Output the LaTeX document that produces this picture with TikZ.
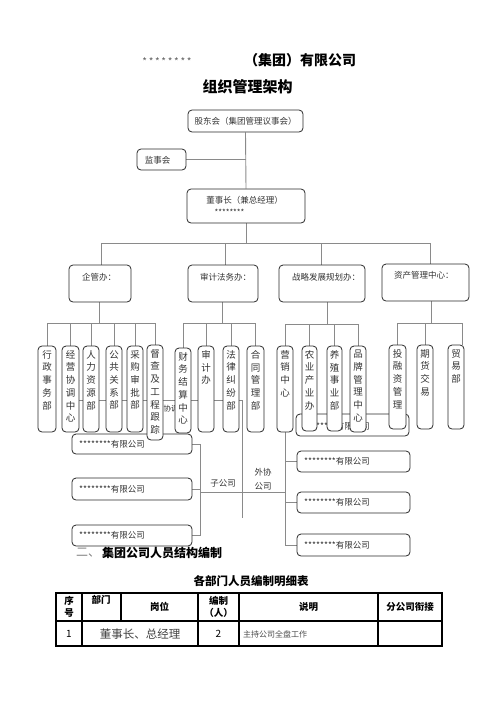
\documentclass[tikz,border=0pt]{standalone}
\usepackage{fontspec}
\setmainfont{Noto Sans CJK SC}
\usetikzlibrary{backgrounds}
\definecolor{bd}{HTML}{2A2A2A}
\definecolor{ln}{HTML}{8A8A8A}
\definecolor{tx}{HTML}{333333}
\newcommand\mkbox[5]{\node[box, minimum width={(#4-#2)*1pt}, minimum height={(#5-#3)*1pt}] (#1) at ({(#2+#4)/2},{(#3+#5)/2}) {};}
\newcommand\vlab[2]{\node[vt] (#1-t) at ([yshift=-4.5pt]#1.north) {#2};}
\begin{document}
\begin{tikzpicture}[x=1pt,y=-1pt,
  box/.style={draw=bd, line width=0.8pt, rounded corners=4pt, fill=white, inner sep=0pt},
  conn/.style={draw=ln, line width=0.9pt},
  t/.style={text=tx, font=\fontsize{8.5}{10}\selectfont, inner sep=0pt},
  vt/.style={text=tx, font=\fontsize{9.5}{12.7}\selectfont, align=center, inner sep=0pt, anchor=north},
  hd/.style={text=black, font=\bfseries\fontsize{9.5}{12}\selectfont, align=center, inner sep=0pt}]
\useasboundingbox (0,0) rectangle (496,702);

% titles
\node[text=black!60, font=\fontsize{10}{11}\selectfont, inner sep=0pt] (stars) at (167,62) {*\,*\,*\,*\,*\,*\,*\,*};
\node[font=\bfseries\fontsize{14}{16}\selectfont, inner sep=0pt] (ttl) at (300,60) {（集团）有限公司};
\node[font=\bfseries\fontsize{15}{17}\selectfont, inner sep=0pt] (ttl2) at (247.5,87) {组织管理架构};

% top boxes
\mkbox{gd}{188}{110}{303}{132}
\node[t] (gd-t) at (gd) {股东会（集团管理议事会）};
\mkbox{js}{137}{149}{186}{170}
\node[t] (js-t) at (157.5,160) {监事会};
\mkbox{dsz}{187}{189}{305}{223}
\node[t] (dsz-t) at (244.5,200) {董事长（兼总经理）};
\node[t, font=\fontsize{8}{9}\selectfont] (dsz-s) at (229.5,212) {********};

% level 2
\mkbox{q1}{69}{265}{131}{302}
\node[t, anchor=west] (q1-t) at (82,277) {企管办：};
\mkbox{q2}{188}{265}{258}{302}
\node[t, anchor=west] (q2-t) at (200,277) {审计法务办：};
\mkbox{q3}{279}{265}{365}{302}
\node[t, anchor=west] (q3-t) at (292,277) {战略发展规划办：};
\mkbox{q4}{382}{264}{469}{301}
\node[t, anchor=west] (q4-t) at (394,275) {资产管理中心：};

% hidden label and boxes behind departments
\node[t, font=\fontsize{7.5}{9}\selectfont, anchor=west] (xt) at (163.5,409) {协调};
\mkbox{r0}{296}{414}{409}{436}
\node[t, anchor=west] (r0-t) at (304,426) {********有限公司};
\mkbox{l1}{72}{434}{192}{454}
\node[t, anchor=west] (l1-t) at (79,444) {********有限公司};

% departments
\mkbox{a1}{38}{346}{56}{432}\vlab{a1}{行\\政\\事\\务\\部}
\mkbox{a2}{62}{346}{79}{432}\vlab{a2}{经\\营\\协\\调\\中\\心}
\mkbox{a3}{83}{346}{99}{432}\vlab{a3}{人\\力\\资\\源\\部}
\mkbox{a4}{106}{346}{122}{432}\vlab{a4}{公\\共\\关\\系\\部}
\mkbox{a5}{127}{346}{143}{432}\vlab{a5}{采\\购\\审\\批\\部}
\mkbox{a6}{147}{345}{163}{440}\vlab{a6}{督\\查\\及\\工\\程\\跟\\踪}
\mkbox{b1}{175}{348}{191}{433}\vlab{b1}{财\\务\\结\\算\\中\\心}
\mkbox{b2}{198}{346}{214}{432}\vlab{b2}{审\\计\\办}
\mkbox{b3}{223}{346}{239}{432}\vlab{b3}{法\\律\\纠\\纷\\部}
\mkbox{b4}{247}{346}{264}{432}\vlab{b4}{合\\同\\管\\理\\部}
\mkbox{c1}{277}{346}{293}{432}\vlab{c1}{营\\销\\中\\心}
\mkbox{c2}{302}{346}{317}{431}\vlab{c2}{农\\业\\产\\业\\办}
\mkbox{c3}{327}{346}{342}{431}\vlab{c3}{养\\殖\\事\\业\\部}
\mkbox{c4}{350}{346}{366}{432}\vlab{c4}{品\\牌\\管\\理\\中\\心}
\mkbox{e1}{389}{345}{406}{429}\vlab{e1}{投\\融\\资\\管\\理}
\mkbox{e2}{417}{345}{433}{429}\vlab{e2}{期\\货\\交\\易}
\mkbox{e3}{448}{345}{464}{429}\vlab{e3}{贸\\易\\部}

% companies
\mkbox{l2}{72}{478}{192}{500}
\node[t, anchor=west] (l2-t) at (79,489) {********有限公司};
\mkbox{l3}{72}{525}{192}{546}
\node[t, anchor=west] (l3-t) at (79,535.5) {********有限公司};
\mkbox{r1}{297}{451}{410}{472}
\node[t, anchor=west] (r1-t) at (304,461) {********有限公司};
\mkbox{r2}{297}{492}{410}{513}
\node[t, anchor=west] (r2-t) at (304,502.5) {********有限公司};
\mkbox{r3}{297}{534}{410}{556}
\node[t, anchor=west] (r3-t) at (304,545) {********有限公司};
\node[t] (zgs) at (223,483) {子公司};
\node[t, align=center, font=\fontsize{8.5}{14}\selectfont] (wx) at (263,479) {外协\\公司};

% connectors
\begin{scope}[on background layer]
\coordinate (busL) at (101,243);
\coordinate (busR) at (430,243);
\draw[conn] (gd.south) -- (dsz.north);
\draw[conn] (js.east) -- (js.east -| gd.south);
\draw[conn] (dsz.south) -- (dsz.south |- busL);
\draw[conn] (busL) -- (busR);
\draw[conn] (busL) -- (busL |- q1.north);
\draw[conn] ([xshift=2pt]q2.north |- busL) -- ([xshift=2pt]q2.north);
\draw[conn] ([xshift=-1pt]q3.north |- busL) -- ([xshift=-1pt]q3.north);
\draw[conn] (busR) -- (busR |- q4.north);
% group 1
\coordinate (g1) at (99,323);
\draw[conn] ([xshift=-1pt]q1.south) -- (g1);
\draw[conn] (a1.north |- g1) -- (a6.north |- g1);
\foreach \d in {a1,a2,a3,a4,a5,a6} \draw[conn] (\d.north |- g1) -- (\d.north);
% group 2
\coordinate (g2) at (222,323);
\draw[conn] ([xshift=-1pt]q2.south) -- (g2);
\draw[conn] (b1.north |- g2) -- (b4.north |- g2);
\foreach \d in {b1,b2,b3,b4} \draw[conn] (\d.north |- g2) -- (\d.north);
% group 3
\coordinate (g3) at (327,324);
\draw[conn] ([xshift=5pt]q3.south) -- (g3);
\draw[conn] (c1.north |- g3) -- (c4.north |- g3);
\foreach \d in {c1,c2,c3,c4} \draw[conn] (\d.north |- g3) -- (\d.north);
% group 4
\coordinate (g4) at (431,323);
\coordinate (g4r) at (462,323);
\draw[conn] ([xshift=5.5pt]q4.south) -- (g4);
\draw[conn] (e1.north |- g4) -- (g4r);
\foreach \d in {e1,e2} \draw[conn] (\d.north |- g4) -- (\d.north);
\draw[conn] (g4r) -- (g4r |- e3.north);
% long coordination line
\coordinate (xv) at (242,400);
\coordinate (xe) at (242,518);
\draw[conn] (a2.east |- xv) -- (xv) -- (xe);
% left bracket
\coordinate (lb) at (200,492);
\coordinate (rb) at (285,492);
\draw[conn] (l1.east) -- (l1.east -| lb) -- (l3.east -| lb) -- (l3.east);
\draw[conn] (l2.east) -- (l2.east -| lb);
\draw[conn] (lb) -- (rb);
% right bracket
\draw[conn] (c1.south) -- (c1.south |- r3.west) -- (r3.west);
\draw[conn] (c1.south |- r1.west) -- (r1.west);
\draw[conn] (c1.south |- r2.west) -- (r2.west);
\end{scope}

% section heading
\node[text=gray, font=\fontsize{12}{14}\selectfont, inner sep=0pt, anchor=west] (sec1) at (76,553) {二、};
\node[font=\bfseries\fontsize{12}{14}\selectfont, inner sep=0pt, anchor=west] (sec2) at (102,553) {集团公司人员结构编制};
\node[font=\bfseries\fontsize{11.5}{13}\selectfont, inner sep=0pt] (tabt) at (251,581) {各部门人员编制明细表};

% table
\draw[line width=1.2pt] (56,593) rectangle (442,646);
\draw[line width=1.2pt] (56,621) -- (442,621);
\foreach \xx in {82,198,239,378} \draw[line width=1.2pt] (\xx,593) -- (\xx,646);
\draw[line width=1.2pt] (121,593) -- (121,621);
\node[hd, font=\bfseries\fontsize{9.5}{11.5}\selectfont] (h1) at (69,607) {序\\号};
\node[hd] (h2) at (101,600) {部门};
\node[hd] (h3) at (159.5,607) {岗位};
\node[hd, font=\bfseries\fontsize{9.5}{12.5}\selectfont] (h4) at (218.5,607) {编制\\（人）};
\node[hd] (h5) at (308.5,607) {说明};
\node[hd] (h6) at (410,607) {分公司衔接};
\node[inner sep=0pt, font=\fontsize{10}{12}\selectfont] (r1c1) at (69,634) {1};
\node[inner sep=0pt, text=black!75, font=\fontsize{11.5}{13}\selectfont] (r1c2) at (140,634) {董事长、总经理};
\node[inner sep=0pt, font=\fontsize{10}{12}\selectfont] (r1c4) at (218.5,634) {2};
\node[inner sep=0pt, anchor=west, text=black!70, font=\fontsize{8}{10}\selectfont] (r1c5) at (243,634) {主持公司全盘工作};
\end{tikzpicture}
\end{document}
